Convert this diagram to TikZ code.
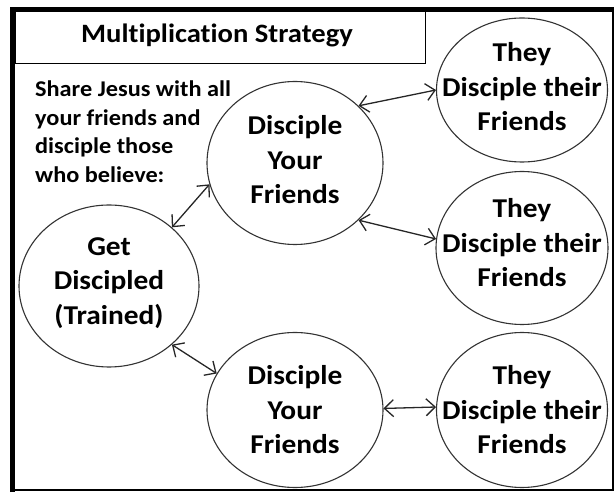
\documentclass[tikz,border=0pt]{standalone}
\usepackage{fontspec}
\setmainfont{Carlito}[Ligatures=NoCommon, FakeStretch=1.08]
\usetikzlibrary{shapes.geometric,arrows.meta}
\begin{document}
\begin{tikzpicture}[x=1pt,y=1pt,
  bubble/.style={ellipse, draw=black!80, line width=1.1pt, inner sep=0pt},
  bubtext/.style={font=\fontsize{27.2}{34.5}\selectfont\bfseries, align=center, inner sep=0pt, text=black},
  plain/.style={inner sep=0pt, text=black},
  link/.style={draw=black!85, line width=1.3pt, {Straight Barb[length=9pt,width=17pt]}-{Straight Barb[length=9pt,width=17pt]}},
  heavy/.style={line width=4.5pt},
  light/.style={line width=2pt}]
\useasboundingbox (0,0) rectangle (616,493);
% outer frame
\draw[light] (10.5,3) -- (613,3) -- (613,483.5);
\draw[heavy] (12.5,1) -- (12.5,483.5) -- (614,483.5);
% title box
\node[draw, line width=1.4pt, minimum width=410pt, minimum height=53pt, anchor=north west, inner sep=0pt] (titlebox) at (15,483) {};
\node[plain, anchor=base, font=\fontsize{26.5}{30}\selectfont\bfseries] (title) at (217,450) {Multiplication Strategy};
% left note
\node[plain, align=left, anchor=north west, font=\fontsize{22.5}{28.5}\selectfont\bfseries] (note) at (35,412) {Share Jesus with all\\your friends and\\disciple those\\who believe:};
% bubbles
\node[bubble, minimum width=180pt, minimum height=162pt] (gd) at (109,207) {};
\node[bubble, minimum width=176pt, minimum height=163pt] (tm) at (295,330) {};
\node[bubble, minimum width=176pt, minimum height=155pt] (bm) at (295,83) {};
\node[bubble, minimum width=171pt, minimum height=144pt] (tr) at (522,403) {};
\node[bubble, minimum width=172pt, minimum height=153pt] (mr) at (522,245) {};
\node[bubble, minimum width=171pt, minimum height=155pt] (br) at (522,83) {};
% bubble texts
\node[bubtext] (gdt) at ([yshift=3pt]gd.center) {Get\\Discipled\\(Trained)};
\node[bubtext] (tmt) at ([yshift=3pt]tm.center) {Disciple\\Your\\Friends};
\node[bubtext] (bmt) at (bm.center) {Disciple\\Your\\Friends};
\node[bubtext] (trt) at ([yshift=3pt]tr.center) {They\\Disciple their\\Friends};
\node[bubtext] (mrt) at ([yshift=5pt]mr.center) {They\\Disciple their\\Friends};
\node[bubtext] (brt) at (br.center) {They\\Disciple their\\Friends};
% connectors
\draw[link] (gd.43.6) -- (tm.194);
\draw[link] (tm.42.6) -- (tr.180);
\draw[link] (tm.318) -- (mr.174.6);
\draw[link] (gd.317.3) -- (bm.155.2);
\draw[link] (bm.1.3) -- (br.178.7);
\end{tikzpicture}
\end{document}
